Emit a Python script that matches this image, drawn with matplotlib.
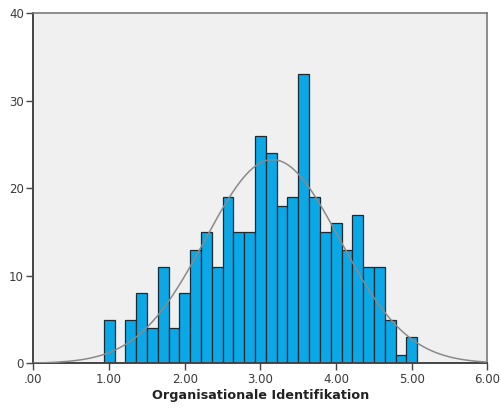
import numpy as np
import matplotlib
matplotlib.use("Agg")
import matplotlib.pyplot as plt

# Scale means come in steps of 1/7 (seven-item scale), one bar per possible value
bin_width = 1 / 7
bin_centers = 1 + np.arange(29) * bin_width
counts = [5, 0, 5, 8, 4, 11, 4, 8, 13, 15, 11, 19, 15, 15, 26,
          24, 18, 19, 33, 19, 15, 16, 13, 17, 11, 11, 5, 1, 3]
x_ticks = [0, 1, 2, 3, 4, 5, 6]
x_tick_labels = [".00", "1.00", "2.00", "3.00", "4.00", "5.00", "6.00"]
y_ticks = [0, 10, 20, 30, 40]
x_label = "Organisationale Identifikation"

counts = np.array(counts, dtype=float)
n = counts.sum()
mean = np.sum(bin_centers * counts) / n
sd = np.sqrt(np.sum(counts * (bin_centers - mean) ** 2) / (n - 1))

fig = plt.figure(figsize=(5.02, 4.12), dpi=100)
ax = fig.add_axes([0.0667, 0.118, 0.9043, 0.850])
ax.set_facecolor("#F0F0F0")

ax.bar(bin_centers, counts, width=bin_width, color="#0AA8E6",
       edgecolor="#1E2A30", linewidth=0.9, zorder=2)

# Normal curve scaled to the histogram
xs = np.linspace(0, 6, 400)
pdf = np.exp(-0.5 * ((xs - mean) / sd) ** 2) / (sd * np.sqrt(2 * np.pi))
ax.plot(xs, pdf * n * bin_width, color="#8A8A8A", linewidth=1.1, zorder=3)

ax.set_xlim(0, 6)
ax.set_ylim(0, 40)
ax.set_xticks(x_ticks)
ax.set_xticklabels(x_tick_labels)
ax.set_yticks(y_ticks)

for side in ("top", "right"):
    ax.spines[side].set_color("#7A7A7A")
    ax.spines[side].set_linewidth(1.2)
for side in ("left", "bottom"):
    ax.spines[side].set_color("#444444")
    ax.spines[side].set_linewidth(1.4)

ax.tick_params(axis="both", direction="out", length=5, width=1,
               color="#444444", labelcolor="#3A3A3A", labelsize=8.5, pad=2)
ax.set_xlabel(x_label, fontsize=9.2, fontweight="bold", color="#222222",
              labelpad=2)

fig.savefig("out.png", dpi=100, facecolor="white")
